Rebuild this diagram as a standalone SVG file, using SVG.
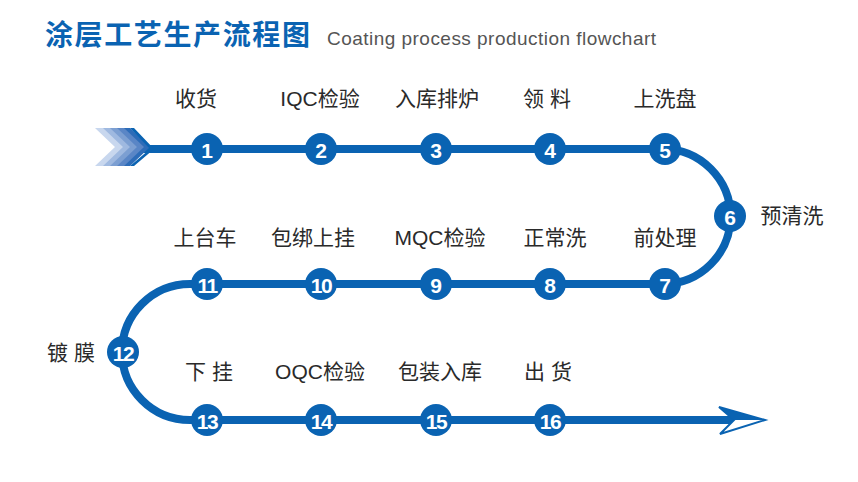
<svg xmlns="http://www.w3.org/2000/svg" width="858" height="482" viewBox="0 0 858 482">
<style>
.lbl{font-family:"Liberation Sans","Noto Sans CJK SC",sans-serif;font-size:21px;fill:#2a2a2a;text-anchor:middle;dominant-baseline:central}
.num{font-family:"Liberation Sans",Arial,sans-serif;font-weight:bold;font-size:21px;fill:#fff;text-anchor:middle;dominant-baseline:central}
.dot{fill:#0a63b2}
.path{fill:none;stroke:#0a63b2;stroke-width:8}
</style>
<rect width="858" height="482" fill="#fff"/>
<text x="45" y="45" font-family="Noto Sans CJK SC,sans-serif" font-weight="bold" font-size="28" fill="#0a63b2" textLength="265">涂层工艺生产流程图</text>
<text x="327" y="45" font-family="Liberation Sans,Arial,sans-serif" font-size="19" fill="#555" textLength="329">Coating process production flowchart</text>
<g id="connectors">
<path class="path" d="M140 149 H663 A67.5 67.5 0 0 1 663 284 H190 A67.5 67.5 0 0 0 190 420 H738"/>
<g id="start-arrow">
<polygon points="95,128 105,128 125,147 105,166 95,166 115,147" fill="#c8d7ee"/>
<polygon points="103,128 111,128 131,147 111,166 103,166 123,147" fill="#9fb9e0"/>
<polygon points="110,128 118,128 138,147 118,166 110,166 130,147" fill="#7c9fd2"/>
<polygon points="117,128 125,128 145,147 125,166 117,166 137,147" fill="#5a86c6"/>
<polygon points="124,128 130,128 150,147 130,166 124,166 144,147" fill="#2d6cb8"/>
<polygon points="130,128 134,128 154,149 134,166 130,166 150,149" fill="#0a63b2"/>
</g>
<g id="end-arrow">
<polygon points="719,407 765,420 720,434 734,420" fill="#fff" stroke="#0a63b2" stroke-width="2" stroke-linejoin="miter"/>
<polygon points="719,407 765,420 734,420" fill="#0a63b2"/>
</g>
</g>
<g id="n1"><circle class="dot" cx="207" cy="149" r="16"/><text class="num" x="207" y="150">1</text><text class="lbl" x="196" y="98">收货</text></g>
<g id="n2"><circle class="dot" cx="321" cy="149" r="16"/><text class="num" x="321" y="150">2</text><text class="lbl" x="320" y="98">IQC检验</text></g>
<g id="n3"><circle class="dot" cx="436" cy="149" r="16"/><text class="num" x="436" y="150">3</text><text class="lbl" x="437" y="98">入库排炉</text></g>
<g id="n4"><circle class="dot" cx="550" cy="149" r="16"/><text class="num" x="550" y="150">4</text><text class="lbl" x="547" y="98">领 料</text></g>
<g id="n5"><circle class="dot" cx="665" cy="149" r="16"/><text class="num" x="665" y="150">5</text><text class="lbl" x="665" y="98">上洗盘</text></g>
<g id="n6"><circle class="dot" cx="730" cy="216" r="16"/><text class="num" x="730" y="217">6</text><text class="lbl" x="792" y="215">预清洗</text></g>
<g id="n7"><circle class="dot" cx="665" cy="284" r="16"/><text class="num" x="665" y="285">7</text><text class="lbl" x="665" y="237">前处理</text></g>
<g id="n8"><circle class="dot" cx="550" cy="284" r="16"/><text class="num" x="550" y="285">8</text><text class="lbl" x="555" y="237">正常洗</text></g>
<g id="n9"><circle class="dot" cx="436" cy="284" r="16"/><text class="num" x="436" y="285">9</text><text class="lbl" x="440" y="237">MQC检验</text></g>
<g id="n10"><circle class="dot" cx="321" cy="284" r="16"/><text class="num" x="321" y="285" letter-spacing="-1.5">10</text><text class="lbl" x="313" y="237">包绑上挂</text></g>
<g id="n11"><circle class="dot" cx="207" cy="284" r="16"/><text class="num" x="207" y="285" letter-spacing="-1.5">11</text><text class="lbl" x="205" y="237">上台车</text></g>
<g id="n12"><circle class="dot" cx="123" cy="352" r="16"/><text class="num" x="123" y="353" letter-spacing="-1.5">12</text><text class="lbl" x="71" y="352">镀 膜</text></g>
<g id="n13"><circle class="dot" cx="207" cy="420" r="16"/><text class="num" x="207" y="421" letter-spacing="-1.5">13</text><text class="lbl" x="209" y="371">下 挂</text></g>
<g id="n14"><circle class="dot" cx="321" cy="420" r="16"/><text class="num" x="321" y="421" letter-spacing="-1.5">14</text><text class="lbl" x="320" y="371">OQC检验</text></g>
<g id="n15"><circle class="dot" cx="436" cy="420" r="16"/><text class="num" x="436" y="421" letter-spacing="-1.5">15</text><text class="lbl" x="440" y="371">包装入库</text></g>
<g id="n16"><circle class="dot" cx="550" cy="420" r="16"/><text class="num" x="550" y="421" letter-spacing="-1.5">16</text><text class="lbl" x="548" y="371">出 货</text></g>
</svg>
